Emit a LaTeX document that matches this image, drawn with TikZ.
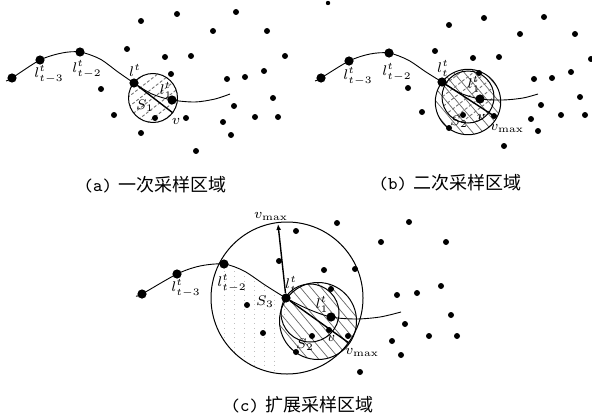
\documentclass[tikz,border=0pt]{standalone}
\usepackage{fontspec}
\newfontfamily\cjk{Noto Sans CJK SC}
\usetikzlibrary{arrows.meta}
\begin{document}
\begin{tikzpicture}[x=0.5pt,y=-0.5pt, every node/.style={font=\scriptsize, inner sep=0pt},
    dot/.style={fill=black, circle, inner sep=0pt, minimum size=3pt},
    bigdot/.style={fill=black, circle, inner sep=0pt, minimum size=4.6pt},
    track/.style={line width=0.45pt},
    ring/.style={line width=0.5pt},
    radius line/.style={line width=0.7pt},
    hatchsolid/.style={line width=0.35pt, black!60},
    hatchdash/.style={line width=0.45pt, black!55, dash pattern=on 1.5pt off 1pt},
    caption/.style={font=\small}]
  \useasboundingbox (0,0) rectangle (592,417);
  \newcommand{\hatchdisc}[5]{
    \begin{scope}
      \clip (#1) circle[radius=#2];
      \begin{scope}[shift={(#1)},rotate=#3]
        \foreach \d in {-80,-72,...,80} {
          \draw[#5] (-80,\d*#4) -- (80,\d*#4);
        }
      \end{scope}
    \end{scope}
  }
  % (a)
  \coordinate (ca) at (153,98);
  \hatchdisc{ca}{24.5}{38}{1}{hatchdash}
  \draw[ring] (ca) circle[radius=24.5];
  \draw[track] plot[smooth] coordinates {(6,81) (12,78) (40,60) (62,53) (80,52) (100,59) (118,72) (134,83) (152,94) (172,100) (195,102) (215,99) (230,94)};
  \foreach \n/\x/\y in {a1/12/78,a2/40/60,a3/80/52,a4/134/83,a5/172/100} {
    \node[bigdot] (\n) at (\x,\y) {};
  }
  \foreach \x/\y in {141/21,177/14,236/12,213/31,267/31,127/49,165/57,191/56,285/56,171/74,227/79,245/77,264/71,101/89,273/98,234/106,114/115,155/118,186/118,223/122,255/117,278/117,141/133,231/135,196/151} {
    \node[dot] at (\x,\y) {};
  }
  \coordinate (va) at (173,113);
  \draw[radius line] (a4) -- (va);
  \node (la1) at (49,74) {$l^{t}_{t-3}$};
  \node (la2) at (87,69) {$l^{t}_{t-2}$};
  \node (la3) at (135,70) {$l^{t}$};
  \node (la4) at (166,90) {$l^{t}_{1}$};
  \node (sa) at (145,106) {$S_1$};
  \node (na) at (176,121) {$v$};
  \node[caption] (capa) at (155,185) {{\ttfamily (a)} {\cjk 一次采样区域}};
  % (b)
  \coordinate (cb) at (468,102);
  \coordinate (db) at (468,97);
  \hatchdisc{cb}{32.7}{-50}{1}{hatchsolid}
  \hatchdisc{db}{26}{38}{1}{hatchdash}
  \draw[ring] (cb) circle[radius=32.7];
  \draw[ring] (db) circle[radius=26];
  \draw[track] plot[smooth] coordinates {(315,81) (321,78) (349,61) (370,54) (389,53) (408,60) (426,72) (442,82) (460,93) (480,99) (503,100) (523,98) (538,94)};
  \foreach \n/\x/\y in {b1/321/78,b2/349/61,b3/389/53,b4/442/82,b5/480/99} {
    \node[bigdot] (\n) at (\x,\y) {};
  }
  \foreach \x/\y in {449/25,484/18,544/17,520/34,575/34,435/51,473/58,499/57,591/59,479/73,534/79,552/78,571/72,408/88,580/97,541/105,422/112,463/115,494/116,531/119,561/115,585/115,449/128,538/131,504/146} {
    \node[dot] at (\x,\y) {};
  }
  \node[dot, minimum size=2.2pt] (topb) at (328,3) {};
  \coordinate (vb) at (494,116);
  \draw[radius line] (b4) -- (vb);
  \node (lb1) at (358,76) {$l^{t}_{t-3}$};
  \node (lb2) at (397,72) {$l^{t}_{t-2}$};
  \node (lb3) at (443,68) {$l^{t}_{t}$};
  \node (lb4) at (474,84) {$l^{t}_{1}$};
  \node (sb) at (459,122) {$S_2$};
  \node (nb) at (481,117) {$v$};
  \node (mb) at (507,129) {$v_{\max}$};
  \node[caption] (capb) at (450,183) {{\ttfamily (b)} {\cjk 二次采样区域}};
  % (c)
  \coordinate (cc) at (287,298);
  \coordinate (dc) at (318,321);
  \coordinate (ec) at (310,313);
  \begin{scope}
    \clip (cc) circle[radius=76];
    \clip (212,262) -- (224,264) -- (244,271) -- (265,285) -- (286,298) -- (280,380) -- (200,380) -- cycle;
    \foreach \x in {224,234,...,290} {
      \draw[black!25, line width=0.35pt, dotted] (\x,262) -- (\x,380);
    }
  \end{scope}
  \hatchdisc{dc}{38.5}{-50}{1}{hatchsolid}
  \draw[ring] (cc) circle[radius=76];
  \draw[ring] (dc) circle[radius=38.5];
  \draw[ring] (ec) circle[radius=29];
  \draw[track] plot[smooth] coordinates {(136,296) (142,294) (177,274) (200,266) (224,264) (244,271) (265,285) (286,298) (308,309) (331,317) (356,319) (380,317) (401,312)};
  \foreach \n/\x/\y in {c1/142/294,c2/177/274,c3/224/264,c4/286/298,c5/331/317} {
    \node[bigdot] (\n) at (\x,\y) {};
  }
  \foreach \x/\y in {296/231,337/223,409/222,381/242,446/242,279/261,324/270,355/269,331/289,397/295,417/293,441/286,247/305,451/315,405/324,263/333,312/336,329/330,348/336,392/341,429/336,457/336,296/352,401/355,360/372} {
    \node[dot] at (\x,\y) {};
  }
  \coordinate (tc) at (278,224);
  \coordinate (vc) at (349,343);
  \draw[radius line,-{Latex[length=3pt,width=2.5pt]}] (c4) -- (tc);
  \draw[radius line] (c4) -- (vc);
  \node (lc1) at (186,288) {$l^{t}_{t-3}$};
  \node (lc2) at (232,283) {$l^{t}_{t-2}$};
  \node (lc3) at (291,284) {$l^{t}_{t}$};
  \node (lc4) at (322,304) {$l^{t}_{1}$};
  \node (sc3) at (265,302) {$S_3$};
  \node (sc2) at (305,345) {$S_2$};
  \node (nc) at (331,338) {$v$};
  \node (mc1) at (271,217) {$v_{\max}$};
  \node (mc2) at (362,353) {$v_{\max}$};
  \node[caption] (capc) at (302,405) {{\ttfamily (c)} {\cjk 扩展采样区域}};
\end{tikzpicture}
\end{document}
